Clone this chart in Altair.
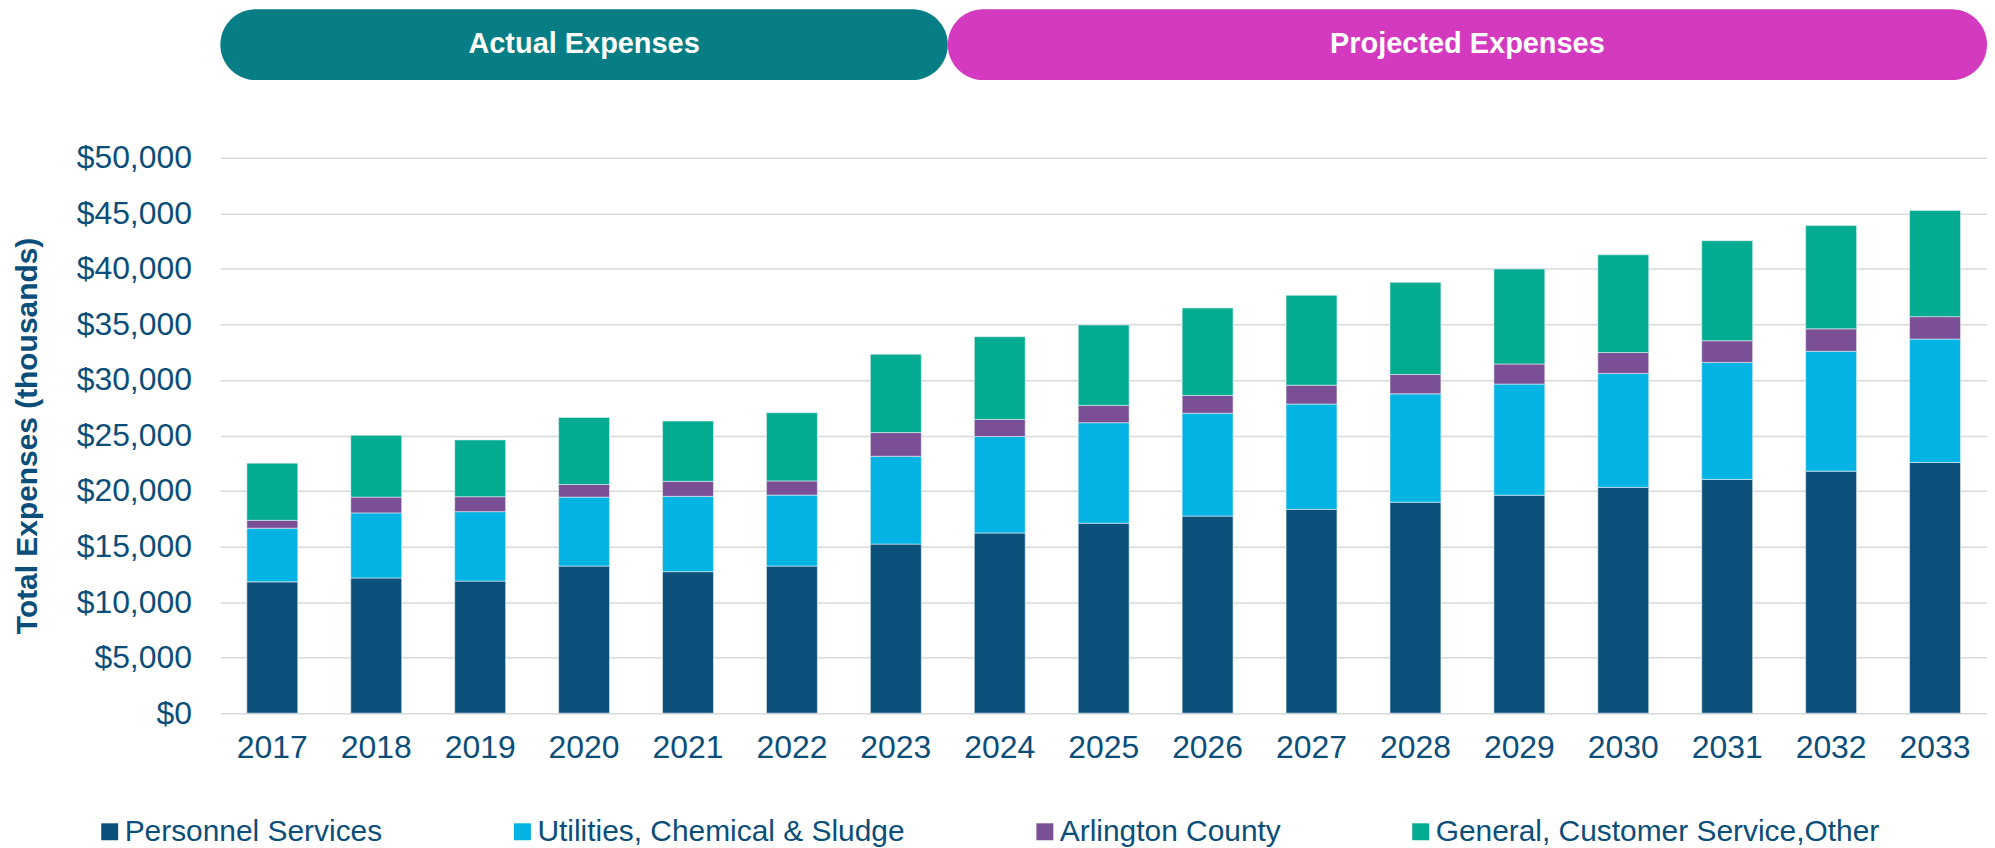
import altair as alt
import pandas as pd

years = [2017, 2018, 2019, 2020, 2021, 2022, 2023, 2024, 2025, 2026, 2027, 2028, 2029, 2030, 2031, 2032, 2033]
personnel = [11820, 12170, 11890, 13240, 12740, 13240, 15220, 16220, 17100, 17740, 18350, 18990, 19620, 20330, 21040, 21790, 22570]
utilities = [4830, 5860, 6250, 6210, 6780, 6390, 7910, 8690, 9050, 9260, 9480, 9760, 10010, 10260, 10540, 10790, 11110]
arlington = [710, 1420, 1350, 1140, 1350, 1280, 2130, 1530, 1560, 1600, 1700, 1740, 1810, 1880, 1950, 2020, 2020]
general = [5150, 5570, 5110, 6030, 5430, 6140, 7060, 7450, 7240, 7880, 8090, 8300, 8550, 8800, 9010, 9300, 9550]

series_names = ["Personnel Services", "Utilities, Chemical & Sludge", "Arlington County",
                "General, Customer Service,Other"]
series_colors = ["#0a507b", "#02b3e3", "#7a4f96", "#03ac91"]
y_ticks = [0, 5000, 10000, 15000, 20000, 25000, 30000, 35000, 40000, 45000, 50000]

pill_labels = ["Actual Expenses", "Projected Expenses"]
pill_start = [0, 7]
pill_end = [7, 17]
pill_colors = ["#077e85", "#d43abf"]

rows = []
for i, yr in enumerate(years):
    for k, (name, vals) in enumerate(zip(series_names, [personnel, utilities, arlington, general])):
        rows.append({"Year": str(yr), "Series": name, "Value": vals[i], "ord": k})
df = pd.DataFrame(rows)

pills = pd.DataFrame({
    "label": pill_labels,
    "start": pill_start,
    "end": pill_end,
    "fill": pill_colors,
})
pills["mid"] = (pills["start"] + pills["end"]) / 2

FONT = "Liberation Sans"
TXT = "#0b4e7a"

bars = alt.Chart(df).mark_bar(stroke="#e6eef3", strokeWidth=0.6).encode(
    x=alt.X("Year:O", title=None,
            scale=alt.Scale(paddingInner=0.51, paddingOuter=0.255),
            axis=alt.Axis(labelAngle=0, labelFontSize=32, labelFont=FONT, labelColor=TXT,
                          ticks=False, domain=False, labelPadding=20, grid=False)),
    y=alt.Y("Value:Q", stack="zero", title="Total Expenses (thousands)",
            scale=alt.Scale(domain=[0, 50000], nice=False),
            axis=alt.Axis(values=y_ticks, format="$,.0f", labelFontSize=32, labelFont=FONT,
                          labelColor=TXT, ticks=False, domain=False, labelPadding=29,
                          gridColor="#d9d9d9", gridWidth=1.5,
                          titleFont=FONT, titleFontSize=30, titleFontWeight="bold",
                          titleColor=TXT, titlePadding=34)),
    color=alt.Color("Series:N",
                    scale=alt.Scale(domain=series_names, range=series_colors),
                    legend=alt.Legend(orient="none", legendX=-126, legendY=661,
                                      direction="horizontal", title=None, padding=0,
                                      symbolType="square", symbolSize=289,
                                      symbolStrokeWidth=0, labelFontSize=30,
                                      labelFont=FONT, labelColor=TXT, labelLimit=0,
                                      columnPadding=125, labelOffset=0)),
    order=alt.Order("ord:Q", sort="ascending"),
)

pill_x = alt.Scale(domain=[0, 17], nice=False, zero=False)

pill_rect = alt.Chart(pills).mark_rect(cornerRadius=37).encode(
    x=alt.X("start:Q", scale=pill_x, axis=None),
    x2="end:Q",
    y=alt.value(-149),
    y2=alt.value(-78),
    color=alt.Color("fill:N", scale=None),
)

pill_text = alt.Chart(pills).mark_text(
    font=FONT, fontSize=29, fontWeight="bold", color="white", baseline="middle", align="center"
).encode(
    x=alt.X("mid:Q", scale=pill_x, axis=None),
    y=alt.value(-114),
    text="label:N",
)

pill_layer = alt.layer(pill_rect, pill_text)

chart = alt.layer(bars, pill_layer).resolve_scale(
    x="independent", color="independent"
).properties(
    width=1772, height=557,
    padding={"left": 4, "top": 0, "right": 0, "bottom": 0},
    background="white"
).configure_view(stroke=None)

chart.save("out.html", embed_options={"renderer": "svg", "actions": False})
